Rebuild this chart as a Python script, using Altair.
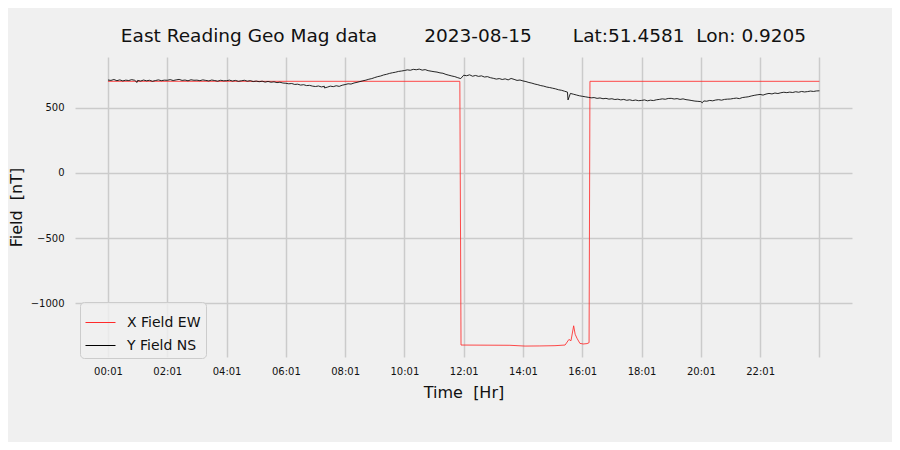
import altair as alt
import pandas as pd

FONT = "DejaVu Sans"
NB = "\u00a0"
TITLE = ("East Reading Geo Mag data" + NB * 8 + "2023-08-15" + NB * 7 +
         "Lat:51.4581" + NB * 2 + "Lon:" + NB + "0.9205")

# Y Field NS, one value every 0.1 h from 00:01 (hours since 00:01)
y_vals = [
    715, 712, 719, 710, 716, 708, 714, 711, 718, 713,
    712, 707, 715, 709, 713, 705, 711, 716, 710, 714,
    713, 718, 711, 716, 720, 712, 715, 709, 717, 713,
    714, 710, 716, 712, 708, 715, 711, 706, 713, 709,
    710, 714, 707, 712, 705, 709, 713, 706, 710, 703,
    707, 702, 706, 699, 704, 698, 701, 695, 698, 692,
    690, 686, 688, 681, 683, 676, 679, 672, 674, 668,
    665, 669, 662, 667, 660, 668, 664, 671, 666, 675,
    680, 686, 684, 692, 697, 703, 709, 714, 721, 726,
    734, 741, 746, 754, 759, 766, 771, 775, 781, 784,
    788, 793, 790, 797, 794, 799, 791, 795, 787, 783,
    779, 776, 770, 767, 758, 752, 746, 741, 733, 726,
    752, 748, 755, 744, 750, 743, 747, 738, 741, 733,
    728, 722, 726, 719, 724, 716, 727, 720, 712, 715,
    708, 703, 696, 691, 684, 679, 672, 668, 661, 657,
    652, 647, 640, 636, 629, 622, 612, 606, 600, 594,
    590, 586, 582, 578, 580, 574, 577, 571, 574, 568,
    571, 565, 568, 562, 566, 559, 563, 557, 561, 556,
    558, 562, 555, 560, 557, 563, 566, 570, 567, 573,
    574, 569, 572, 566, 570, 564, 561, 557, 553, 551,
    549, 554, 552, 558, 555, 561, 564, 560, 566, 568,
    569, 573, 576, 572, 580, 583, 586, 592, 597, 601,
    604, 599, 607, 612, 608, 615, 611, 617, 621, 618,
    622, 619, 625, 621, 627, 623, 626, 630, 627, 631,
    632,
]
y_times = [round(i * 0.1, 1) for i in range(len(y_vals))]
# short spikes
y_spike_times = [0.98, 7.3, 15.52, 20.05]
y_spike_vals = [696, 654, 562, 540]

# X Field EW
x_times = [0.0, 11.87, 11.91, 13.56, 14.07, 14.57, 15.08, 15.42, 15.49, 15.55,
           15.62, 15.71, 15.76, 15.82, 15.92, 16.03, 16.16, 16.23, 16.26, 24.0]
x_vals = [705, 705, -1323, -1325, -1331, -1330, -1328, -1323, -1300, -1280,
          -1290, -1175, -1240, -1270, -1310, -1315, -1312, -1305, 705, 705]

SERIES = ["X Field EW", "Y Field NS"]
COLORS = ["#ff2a2a", "#000000"]

df = pd.concat([
    pd.DataFrame({"t": x_times, "v": x_vals, "s": SERIES[0], "o": 0}),
    pd.DataFrame({"t": y_times + y_spike_times, "v": y_vals + y_spike_vals,
                  "s": SERIES[1], "o": 1}),
]).sort_values(["o", "t"])

x_ticks = list(range(0, 25, 2))
y_ticks = [-1000, -500, 0, 500]

lines = alt.Chart(df).mark_line(strokeWidth=0.85).encode(
    x=alt.X("t:Q",
            scale=alt.Scale(domain=[-1.113, 25.1], nice=False, zero=False),
            axis=alt.Axis(values=x_ticks,
                          labelExpr="datum.value < 24 ? (datum.value < 10 ? '0' : '') + datum.value + ':01' : ''",
                          title="Time" + NB * 2 + "[Hr]", titlePadding=8,
                          labelPadding=9)),
    y=alt.Y("v:Q",
            scale=alt.Scale(domain=[-1415, 892], nice=False, zero=False),
            axis=alt.Axis(values=y_ticks, format="d",
                          title="Field" + NB * 2 + "[nT]",
                          titleX=-54, titleY=150, titleAngle=270,
                          titleAlign="center", titleBaseline="alphabetic",
                          labelPadding=11)),
    color=alt.Color("s:N",
                    scale=alt.Scale(domain=SERIES, range=COLORS),
                    legend=alt.Legend(orient="none", legendX=5, legendY=245,
                                      title=None,
                                      symbolSize=900, symbolStrokeWidth=1,
                                      labelFontSize=14, labelFont=FONT,
                                      labelColor="#111", labelOffset=11,
                                      padding=5, rowPadding=0,
                                      fillColor="rgba(240,240,240,0.8)",
                                      strokeColor="#cccccc", cornerRadius=4)),
    order=alt.Order("o:Q"),
    detail="s:N",
)

chart = lines.properties(
    width=777, height=300,
    title=alt.TitleParams(text=TITLE, fontSize=18.5, font=FONT,
                          fontWeight="normal", color="#111", anchor="middle",
                          offset=12),
    padding={"left": 67, "top": 49, "right": 40, "bottom": 85},
    autosize=alt.AutoSizeParams(type="none"),
    background="#f0f0f0",
).configure_view(
    fill="#f0f0f0", strokeWidth=0,
).configure_axis(
    grid=True, gridColor="#cbcbcb", gridWidth=1.5, domain=False, ticks=False,
    labelFont=FONT, labelFontSize=10, labelColor="#111",
    titleFont=FONT, titleFontSize=16, titleFontWeight="normal",
    titleColor="#111",
)

chart.save("out.html", embed_options={"renderer": "svg", "actions": False})
